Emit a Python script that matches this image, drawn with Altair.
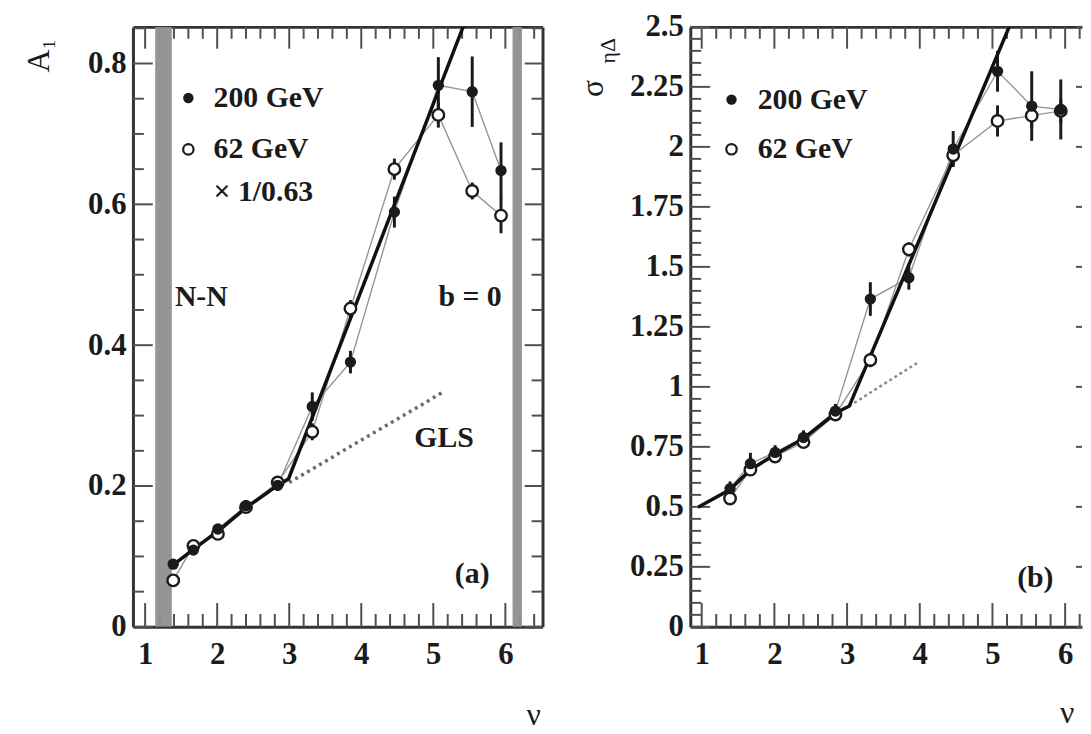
import altair as alt
import pandas as pd

# ---------------- data ----------------
nu = [1.39, 1.67, 2.01, 2.40, 2.84, 3.32, 3.85, 4.46, 5.07, 5.54, 5.94]

# panel (a): A_1
a_200 = [0.089, 0.109, 0.139, 0.172, 0.201, 0.313, 0.376, 0.589, 0.769, 0.760, 0.648]
a_200_err = [0.007, 0.007, 0.007, 0.008, 0.008, 0.020, 0.016, 0.022, 0.040, 0.050, 0.040]
a_62 = [0.066, 0.115, 0.132, 0.170, 0.205, 0.277, 0.452, 0.650, 0.727, 0.619, 0.584]
a_62_err = [0.007, 0.007, 0.007, 0.008, 0.008, 0.012, 0.012, 0.015, 0.018, 0.012, 0.025]
model_a_nu = [1.39, 1.67, 2.01, 2.40, 2.84, 2.99, 5.50]
model_a = [0.088, 0.110, 0.136, 0.169, 0.201, 0.210, 0.875]
gls_a_nu = [3.00, 5.13]
gls_a = [0.205, 0.333]
band_lo = [1.14, 6.10]
band_hi = [1.37, 6.23]
notes_a = ["N-N", "b = 0", "GLS", "(a)"]
notes_a_x = [1.78, 5.51, 5.15, 5.54]
notes_a_y = [0.468, 0.468, 0.268, 0.075]
leg_a_x = [1.60, 1.60]
leg_a_y = [0.751, 0.678]
leg_a_text = ["200 GeV", "62 GeV", "\u00d7 1/0.63"]
leg_a_tx = [1.95, 1.95, 1.95]
leg_a_ty = [0.751, 0.678, 0.617]

# panel (b): sigma_eta_Delta
b_200 = [0.576, 0.680, 0.727, 0.789, 0.899, 1.366, 1.455, 1.991, 2.315, 2.170, 2.156]
b_200_err = [0.03, 0.045, 0.03, 0.03, 0.03, 0.07, 0.05, 0.075, 0.085, 0.145, 0.125]
b_62 = [0.535, 0.655, 0.710, 0.770, 0.885, 1.112, 1.573, 1.965, 2.108, 2.130, 2.150]
b_62_err = [0.02, 0.02, 0.02, 0.02, 0.02, 0.03, 0.03, 0.04, 0.065, 0.05, 0.05]
model_b_nu = [0.95, 1.39, 1.67, 2.01, 2.40, 2.84, 3.03, 5.40]
model_b = [0.498, 0.572, 0.655, 0.718, 0.785, 0.890, 0.920, 2.622]
gls_b_nu = [3.03, 3.96]
gls_b = [0.920, 1.099]
notes_b = ["(b)"]
notes_b_x = [5.59]
notes_b_y = [0.205]
leg_b_x = [1.41, 1.41]
leg_b_y = [2.197, 1.990]
leg_b_text = ["200 GeV", "62 GeV"]
leg_b_tx = [1.77, 1.77]
leg_b_ty = [2.197, 1.990]

x_major = [1, 2, 3, 4, 5, 6]
y_major_a = [0, 0.2, 0.4, 0.6, 0.8]
y_major_b = [0, 0.25, 0.5, 0.75, 1, 1.25, 1.5, 1.75, 2, 2.25, 2.5]

FONT = "Liberation Serif"
INK = "#1b1b1b"
TICK = "#505050"


def steps(lo, hi, step):
    out, k = [], 0
    while True:
        v = round(lo + k * step, 4)
        if v > hi + 1e-9:
            break
        out.append(v)
        k += 1
    return out


def axis(orient, values, labels=False, domain=False, pad=0):
    kw = dict(orient=orient, values=values, labels=labels, domain=domain,
              ticks=False, grid=False, title=None,
              domainColor="#333333", domainWidth=3)
    if labels:
        kw.update(labelFont=FONT, labelFontSize=31, labelFontWeight="bold",
                  labelColor=INK, labelPadding=pad,
                  labelExpr="format(datum.value, '~g')",
                  labelFlush=False, labelOverlap=False)
    return alt.Axis(**kw)


def panel(w, h, xdom, ydom, ymajor, ystep_minor, v200, e200, v62, e62,
          mnu, mv, gnu, gv, notes, nx, ny, lx, ly, ltext, ltx, lty,
          bands=None, right_axis=True, gls_style=None):
    XS = alt.Scale(domain=xdom, nice=False, zero=False)
    YS = alt.Scale(domain=ydom, nice=False, zero=False)

    def X(f, ax=None):
        return alt.X(f, type="quantitative", scale=XS, axis=ax)

    def Y(f, ax=None):
        return alt.Y(f, type="quantitative", scale=YS, axis=ax)

    pts = pd.DataFrame({"nu": nu, "v200": v200, "e200": e200, "v62": v62, "e62": e62})
    layers = []

    # axis carriers (labels + frame)
    anchor = pd.DataFrame({"x": [xdom[0]], "y": [ydom[0]]})
    carriers = [
        (axis("bottom", x_major, labels=True, domain=True, pad=13),
         axis("left", ymajor, labels=True, domain=True, pad=7)),
        (axis("top", x_major, domain=True),
         axis("right", ymajor, domain=True) if right_axis else None),
    ]
    for xa, ya in carriers:
        layers.append(alt.Chart(anchor).mark_point(opacity=0).encode(
            x=X("x", xa), y=Y("y", ya)))

    # inward tick marks drawn at tick values
    xminor = [v for v in steps(0.2, 6.6, 0.2)
              if xdom[0] <= v <= xdom[1] and abs(v - round(v)) > 1e-6]
    yminor = [v for v in steps(0, ydom[1], ystep_minor)
              if all(abs(v - m) > 1e-6 for m in ymajor)]
    xmaj_df = pd.DataFrame({"t": x_major})
    xmin_df = pd.DataFrame({"t": xminor})
    ymaj_df = pd.DataFrame({"t": ymajor})
    ymin_df = pd.DataFrame({"t": yminor})
    rule = dict(color=TICK, strokeWidth=2)
    for df_, ln in [(xmaj_df, 24), (xmin_df, 13)]:
        layers.append(alt.Chart(df_).mark_rule(**rule).encode(
            x=X("t"), y=alt.value(h - ln), y2=alt.value(h)))
    for df_, ln in [(xmaj_df, 22), (xmin_df, 12)]:
        layers.append(alt.Chart(df_).mark_rule(**rule).encode(
            x=X("t"), y=alt.value(0), y2=alt.value(ln)))
    for df_, ln in [(ymaj_df, 20), (ymin_df, 11)]:
        layers.append(alt.Chart(df_).mark_rule(**rule).encode(
            y=Y("t"), x=alt.value(0), x2=alt.value(ln)))
    if right_axis:
        for df_, ln in [(ymaj_df, 18), (ymin_df, 11)]:
            layers.append(alt.Chart(df_).mark_rule(**rule).encode(
                y=Y("t"), x=alt.value(w - ln), x2=alt.value(w)))
    else:
        layers.append(alt.Chart(ymaj_df).mark_rule(**rule).encode(
            y=Y("t"), x=alt.value(w - 6), x2=alt.value(w)))

    if bands is not None:
        bdf = pd.DataFrame({"lo": bands[0], "hi": bands[1]})
        layers.append(alt.Chart(bdf).mark_rect(color="#8f8f8f", opacity=0.95).encode(
            x=X("lo"), x2="hi", y=alt.value(0), y2=alt.value(h)))

    # thin connecting lines
    for col in ["v62", "v200"]:
        layers.append(alt.Chart(pts).mark_line(color="#969696", strokeWidth=1.4).encode(
            x=X("nu"), y=Y(col)))

    # GLS dotted line
    gdf = pd.DataFrame({"nu": gnu, "v": gv})
    gs = gls_style or {}
    layers.append(alt.Chart(gdf).mark_line(color=gs.get("color", "#6a6a6a"),
                                           strokeWidth=gs.get("width", 3.5),
                                           strokeDash=gs.get("dash", [3, 4])).encode(
        x=X("nu"), y=Y("v")))

    # error bars
    for vcol, ecol in [("v62", "e62"), ("v200", "e200")]:
        layers.append(alt.Chart(pts).transform_calculate(
            lo=f"datum.{vcol} - datum.{ecol}", hi=f"datum.{vcol} + datum.{ecol}"
        ).mark_rule(color=INK, strokeWidth=3).encode(x=X("nu"), y=Y("lo:Q"), y2="hi:Q"))

    # model (thick solid)
    mdf = pd.DataFrame({"nu": mnu, "v": mv})
    layers.append(alt.Chart(mdf).mark_line(color="#111111", strokeWidth=3.5, clip=True).encode(
        x=X("nu"), y=Y("v")))

    # points
    layers.append(alt.Chart(pts).mark_point(shape="circle", filled=True, fill="white",
                                            stroke=INK, strokeWidth=2.4, size=135, opacity=1).encode(
        x=X("nu"), y=Y("v62")))
    layers.append(alt.Chart(pts).mark_point(shape="circle", filled=True, color=INK,
                                            size=130, opacity=1).encode(
        x=X("nu"), y=Y("v200")))

    # legend
    ldf = pd.DataFrame({"x": lx, "y": ly})
    layers.append(alt.Chart(ldf.iloc[[0]]).mark_point(shape="circle", filled=True, color=INK,
                                                      size=110, opacity=1).encode(x=X("x"), y=Y("y")))
    layers.append(alt.Chart(ldf.iloc[[1]]).mark_point(shape="circle", filled=True, fill="white",
                                                      stroke=INK, strokeWidth=2.2, size=110,
                                                      opacity=1).encode(x=X("x"), y=Y("y")))
    tdf = pd.DataFrame({"t": ltext, "x": ltx, "y": lty})
    layers.append(alt.Chart(tdf).mark_text(font=FONT, fontSize=30, fontWeight="bold", color=INK,
                                           align="left", baseline="middle").encode(
        x=X("x"), y=Y("y"), text="t"))

    ndf = pd.DataFrame({"t": notes, "x": nx, "y": ny})
    layers.append(alt.Chart(ndf).mark_text(font=FONT, fontSize=30, fontWeight="bold", color=INK,
                                           align="center", baseline="middle").encode(
        x=X("x"), y=Y("y"), text="t"))

    return layers


H = 605
WA = 413
WB = 395

la = panel(WA, H, [0.831, 6.516], [0, 0.852], y_major_a, 0.05,
           a_200, a_200_err, a_62, a_62_err, model_a_nu, model_a, gls_a_nu, gls_a,
           notes_a, notes_a_x, notes_a_y, leg_a_x, leg_a_y, leg_a_text, leg_a_tx, leg_a_ty,
           bands=(band_lo, band_hi), right_axis=True)
# axis titles of panel (a)
la.append(alt.Chart(pd.DataFrame({"t": ["A\u2081"]})).mark_text(
    font=FONT, fontSize=32, color=INK, angle=270, align="center", baseline="middle").encode(
    x=alt.value(-95), y=alt.value(29), text="t"))
la.append(alt.Chart(pd.DataFrame({"t": ["\u03bd"]})).mark_text(
    font=FONT, fontSize=32, color=INK, align="center", baseline="middle").encode(
    x=alt.value(404), y=alt.value(694), text="t"))

lb = panel(WB, H, [0.843, 6.232], [0, 2.5], y_major_b, 0.05,
           b_200, b_200_err, b_62, b_62_err, model_b_nu, model_b, gls_b_nu, gls_b,
           notes_b, notes_b_x, notes_b_y, leg_b_x, leg_b_y, leg_b_text, leg_b_tx, leg_b_ty,
           bands=None, right_axis=False,
           gls_style={"color": "#8a8a8a", "width": 2.5, "dash": [3, 3]})
lb.append(alt.Chart(pd.DataFrame({"t": ["\u03c3"]})).mark_text(
    font=FONT, fontSize=32, color=INK, angle=270, align="center", baseline="middle").encode(
    x=alt.value(-98), y=alt.value(62), text="t"))
lb.append(alt.Chart(pd.DataFrame({"t": ["\u03b7\u0394"]})).mark_text(
    font=FONT, fontSize=22, color=INK, angle=270, align="center", baseline="middle").encode(
    x=alt.value(-83), y=alt.value(24), text="t"))
lb.append(alt.Chart(pd.DataFrame({"t": ["\u03bd"]})).mark_text(
    font=FONT, fontSize=32, color=INK, align="center", baseline="middle").encode(
    x=alt.value(380), y=alt.value(692), text="t"))

pa = alt.layer(*la).resolve_axis(x="independent", y="independent").properties(width=WA, height=H)
pb = alt.layer(*lb).resolve_axis(x="independent", y="independent").properties(width=WB, height=H)

chart = alt.hconcat(pa, pb, spacing=149).properties(
    bounds="flush", padding={"left": 15, "top": 0, "right": 0, "bottom": 0}
).configure_view(stroke=None)

chart.save("out.html", embed_options={"renderer": "svg", "actions": False})
